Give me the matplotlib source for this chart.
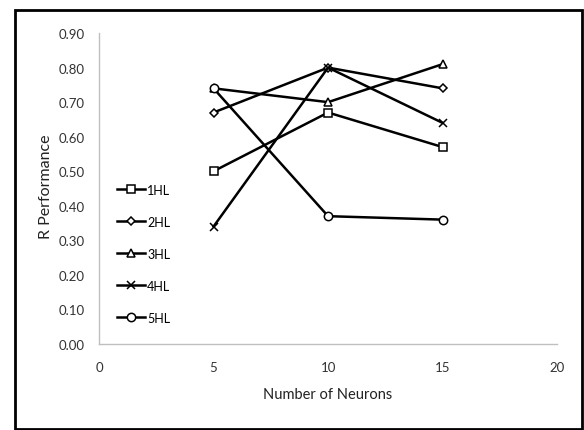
import matplotlib
matplotlib.use("Agg")
import matplotlib.pyplot as plt
from matplotlib.patches import Rectangle

plt.rcParams['font.family'] = ['Lato', 'DejaVu Sans']

neurons = [5, 10, 15]
hl1 = [0.50, 0.67, 0.57]
hl2 = [0.67, 0.80, 0.74]
hl3 = [0.74, 0.70, 0.81]
hl4 = [0.34, 0.80, 0.64]
hl5 = [0.74, 0.37, 0.36]
labels = ["1HL", "2HL", "3HL", "4HL", "5HL"]
markers = ["s", "D", "^", "x", "o"]

fig = plt.figure(figsize=(5.84, 4.31), dpi=100)
ax = fig.add_axes([0.1695, 0.1995, 0.7845, 0.7215])

series = [hl1, hl2, hl3, hl4, hl5]
for vals, lab, m in zip(series, labels, markers):
    ms = 4.5 if m == "D" else 6
    ax.plot(neurons, vals, color="black", lw=1.8, marker=m, ms=ms,
            mfc="white", mec="black", mew=1.1, label=lab)

ax.set_xlim(0, 20)
ax.set_ylim(0, 0.9)
ax.set_xticks([0, 5, 10, 15, 20])
ax.set_yticks([i / 10 for i in range(10)])
ax.set_yticklabels(["{:.2f}".format(i / 10) for i in range(10)])
ax.tick_params(length=0, labelsize=9.5, colors="#333333", pad=10)
ax.tick_params(axis="x", pad=12)
for s in ["top", "right"]:
    ax.spines[s].set_visible(False)
for s in ["left", "bottom"]:
    ax.spines[s].set_color("#bfbfbf")
    ax.spines[s].set_linewidth(1.0)

ax.set_xlabel("Number of Neurons", fontsize=10.5, labelpad=10, color="#222222")
ax.set_ylabel("R Performance", fontsize=11.5, color="#222222")
ax.yaxis.set_label_coords(-0.1, 0.51)

leg = ax.legend(loc="center left", bbox_to_anchor=(0.015, 0.29), frameon=False,
                fontsize=9, handlelength=2.2, handletextpad=0.2,
                labelspacing=1.6)

fig.patches.append(Rectangle((15 / 584, 1 / 431), 567 / 584, 419 / 431,
                             transform=fig.transFigure, fill=False,
                             edgecolor="black", lw=2))

fig.savefig("out.png", dpi=100)
